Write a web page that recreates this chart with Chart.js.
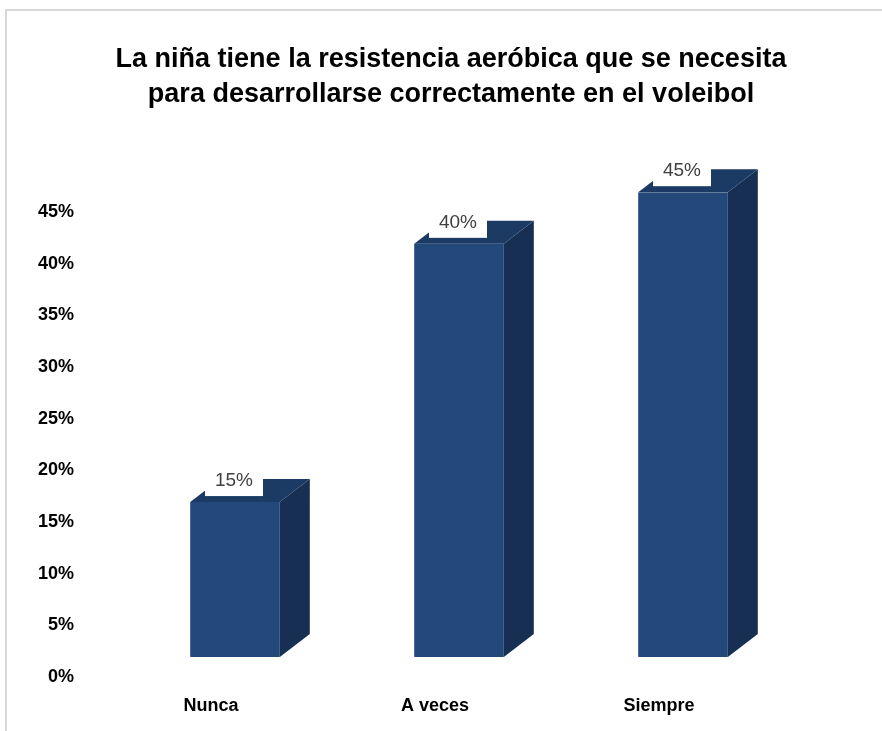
<!DOCTYPE html>
<html>
<head>
<meta charset="utf-8">
<script src="https://cdn.jsdelivr.net/npm/chart.js@4"></script>
<style>
  html, body { margin: 0; padding: 0; background: #fff; }
  #wrap { position: relative; width: 882px; height: 731px; }
  #frame { position: absolute; left: 5px; top: 9px; width: 890px; height: 740px; border: 2px solid #d9d9d9; box-sizing: border-box; }
  canvas { position: absolute; left: 0; top: 0; }
</style>
</head>
<body>
<div id="wrap">
  <div id="frame"></div>
  <canvas id="myChart" width="882" height="731"></canvas>
</div>
<script>
const ctx = document.getElementById('myChart').getContext('2d');

const categorias = ['Nunca', 'A veces', 'Siempre'];
const porcentajes = [0.15, 0.40, 0.45];
const titulo = ['La niña tiene la resistencia aeróbica que se necesita', 'para desarrollarse correctamente en el voleibol'];

const frontColor = '#23487a';
const sideColor = '#172f52';
const topColor = '#1b3a64';
const depthX = 30;
const depthY = 23;

// caras lateral y superior para simular la barra 3D
const bar3d = {
    id: 'bar3d',
    afterDatasetsDraw(chart) {
        const c = chart.ctx;
        chart.getDatasetMeta(0).data.forEach(bar => {
            const left = bar.x - bar.width / 2;
            const right = bar.x + bar.width / 2;
            const top = bar.y;
            const base = bar.base;
            c.save();
            c.fillStyle = sideColor;
            c.beginPath();
            c.moveTo(right, base);
            c.lineTo(right + depthX, base - depthY);
            c.lineTo(right + depthX, top - depthY);
            c.lineTo(right, top);
            c.closePath();
            c.fill();
            c.fillStyle = topColor;
            c.beginPath();
            c.moveTo(left, top);
            c.lineTo(left + depthX, top - depthY);
            c.lineTo(right + depthX, top - depthY);
            c.lineTo(right, top);
            c.closePath();
            c.fill();
            c.restore();
        });
    }
};

const etiquetas = {
    id: 'etiquetas',
    afterDatasetsDraw(chart) {
        const c = chart.ctx;
        const ds = chart.data.datasets[0];
        chart.getDatasetMeta(0).data.forEach((bar, i) => {
            const cx = bar.x - 1;
            const cy = bar.y - 22;
            c.save();
            c.fillStyle = '#ffffff';
            c.fillRect(cx - 29, cy - 15, 58, 31);
            c.fillStyle = '#404040';
            c.font = '19px "Liberation Sans", sans-serif';
            c.textAlign = 'center';
            c.textBaseline = 'middle';
            c.fillText(Math.round(ds.data[i] * 100) + '%', cx, cy + 1);
            c.restore();
        });
    }
};

const data = {
    labels: categorias,
    datasets: [{
        data: porcentajes,
        backgroundColor: frontColor,
        borderWidth: 0,
        barPercentage: 0.8,
        categoryPercentage: 0.5
    }]
};

const config = {
    type: 'bar',
    data: data,
    options: {
        responsive: false,
        animation: false,
        layout: { padding: { left: 20, right: 0, top: 0, bottom: 0 } },
        scales: {
            x: {
                grid: { display: false, drawTicks: false },
                border: { display: false },
                ticks: {
                    color: '#000',
                    padding: 38,
                    labelOffset: -24,
                    font: { family: 'Liberation Sans', size: 18, weight: 'bold' }
                },
                afterFit(scale) { scale.height = 74; }
            },
            y: {
                min: 0,
                max: 0.45,
                grid: { display: false, drawTicks: false },
                border: { display: false },
                ticks: {
                    stepSize: 0.05,
                    color: '#000',
                    padding: 49,
                    labelOffset: 20,
                    font: { family: 'Liberation Sans', size: 18, weight: 'bold' },
                    callback: v => Math.round(v * 100) + '%'
                },
                afterFit(scale) { scale.width = 103; }
            },
            yDerecha: {
                position: 'right',
                grid: { display: false, drawTicks: false },
                border: { display: false },
                ticks: { display: false },
                afterFit(scale) { scale.width = 87; }
            }
        },
        plugins: {
            legend: { display: false },
            tooltip: { enabled: false },
            title: {
                display: true,
                text: titulo,
                color: '#000',
                font: { family: 'Liberation Sans', size: 27, weight: 'bold', lineHeight: 1.3 },
                padding: { top: 42, bottom: 80 }
            }
        }
    },
    plugins: [bar3d, etiquetas]
};

const myChart = new Chart(ctx, config);
</script>
</body>
</html>
